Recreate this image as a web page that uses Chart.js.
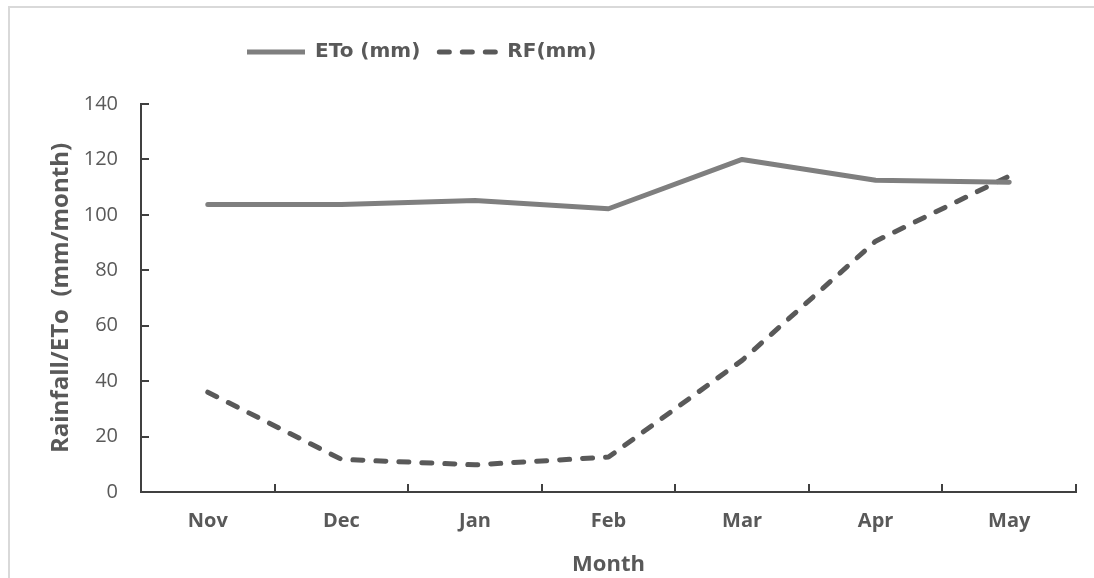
<!DOCTYPE html>
<html><head><meta charset="utf-8">
<script src="https://cdn.jsdelivr.net/npm/chart.js@4"></script>
<style>
html,body{margin:0;padding:0;background:#fff;}
#wrap{position:relative;width:1094px;height:578px;overflow:hidden;}
#frame{position:absolute;left:8px;top:6px;right:0;bottom:0;border-top:2px solid #d9d9d9;border-left:2px solid #d9d9d9;pointer-events:none;}
canvas{position:absolute;left:0;top:0;}
</style></head><body>
<div id="wrap"><canvas id="c" width="1094" height="578"></canvas><div id="frame"></div></div>
<script>
const months = ['Nov','Dec','Jan','Feb','Mar','Apr','May'];
const etoValues = [103.7, 103.7, 105.2, 102.2, 120.0, 112.5, 111.8];
const rfValues = [36.0, 11.8, 9.8, 12.6, 47.5, 90.5, 114.0];
const yTickValues = [0, 20, 40, 60, 80, 100, 120, 140];
const seriesNames = ['ETo (mm)', 'RF(mm)'];
const xTitle = 'Month';
const yTitle = 'Rainfall/ETo  (mm/month)';

const FONT = "'Open Sans', 'DejaVu Sans', sans-serif";
const LEGEND_FONT = "'DejaVu Sans', 'Open Sans', sans-serif";
const TEXT = '#595959';
const AXIS = '#404040';

const insideTicks = {
  id: 'insideTicks',
  afterDraw(chart) {
    const {ctx, scales: {x, y}} = chart;
    ctx.save();
    ctx.strokeStyle = AXIS;
    ctx.lineWidth = 2;
    ctx.beginPath();
    y.ticks.forEach((t, i) => {
      const py = Math.round(y.getPixelForTick(i));
      ctx.moveTo(y.right, py); ctx.lineTo(y.right + 8, py);
    });
    for (let i = 0; i <= months.length; i++) {
      const px = Math.round(x.getPixelForValue(i - 0.5));
      ctx.moveTo(px, x.top); ctx.lineTo(px, x.top - 8);
    }
    ctx.stroke();
    ctx.restore();
  }
};

const legendPos = {
  id: 'legendPos',
  afterLayout(chart) {
    chart.legend.left = 228;
    chart.legend.top = 23;
  }
};

new Chart(document.getElementById('c'), {
  type: 'line',
  data: {
    labels: months,
    datasets: [
      {label: seriesNames[0], data: etoValues, borderColor: '#7f7f7f', backgroundColor: '#7f7f7f',
       borderWidth: 5, pointRadius: 0, tension: 0, borderCapStyle: 'round', borderJoinStyle: 'round'},
      {label: seriesNames[1], data: rfValues, borderColor: '#595959', backgroundColor: '#595959',
       borderWidth: 5, pointRadius: 0, tension: 0, borderDash: [10, 13], borderCapStyle: 'round', borderJoinStyle: 'round'}
    ]
  },
  options: {
    responsive: false,
    animation: false,
    devicePixelRatio: 1,
    layout: {padding: {top: 55, right: 18, bottom: 0, left: 0}},
    plugins: {
      tooltip: {enabled: false},
      legend: {
        position: 'top',
        align: 'start',
        labels: {
          usePointStyle: true,
          pointStyleWidth: 58,
          padding: 19,
          color: TEXT,
          font: {family: LEGEND_FONT, size: 20, weight: 'bold'},
          generateLabels(chart) {
            const items = Chart.defaults.plugins.legend.labels.generateLabels(chart);
            items.forEach((it, i) => {
              const ds = chart.data.datasets[i];
              it.pointStyle = 'line';
              it.fillStyle = 'transparent';
              it.strokeStyle = ds.borderColor;
              it.lineWidth = ds.borderWidth;
              it.lineDash = ds.borderDash || [];
              it.lineCap = ds.borderDash ? 'round' : 'butt';
            });
            return items;
          }
        }
      }
    },
    scales: {
      x: {
        offset: true,
        grid: {display: false, drawTicks: false, offset: true},
        border: {display: true, color: AXIS, width: 2},
        ticks: {color: TEXT, font: {family: FONT, size: 20, weight: 'bold'}, padding: 17, maxRotation: 0},
        title: {display: true, text: xTitle, color: TEXT, font: {family: FONT, size: 22, weight: 'bold'}, padding: {top: 0, bottom: 0}},
        afterFit(scale) { scale.height = 86; }
      },
      y: {
        min: 0, max: 140,
        afterBuildTicks(scale) { scale.ticks = yTickValues.map(v => ({value: v})); },
        grid: {display: false, drawTicks: false},
        border: {display: true, color: AXIS, width: 2},
        ticks: {color: TEXT, font: {family: FONT, size: 20}, padding: 23},
        title: {display: true, text: yTitle, color: TEXT, font: {family: FONT, size: 24, weight: 'bold'}, padding: {top: 47, bottom: 0}},
        afterFit(scale) { scale.width = 141; }
      }
    }
  },
  plugins: [insideTicks, legendPos]
});
</script>
</body></html>
